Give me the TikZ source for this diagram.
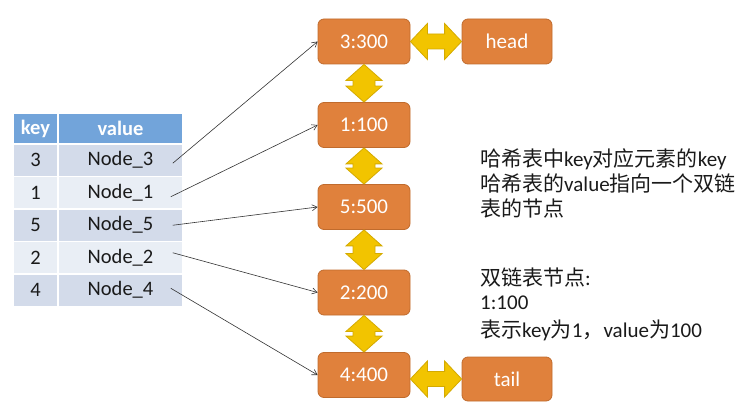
\documentclass[tikz,border=0pt]{standalone}
\usepackage{fontspec}
\setmainfont{Carlito}
\newfontfamily\cjk{Noto Sans CJK SC}
\usetikzlibrary{arrows.meta,calc}
\definecolor{orangefill}{HTML}{E0813C}
\definecolor{orangeline}{HTML}{C06B2D}
\definecolor{goldfill}{HTML}{F2C400}
\definecolor{goldline}{HTML}{D4AA00}
\definecolor{hdrblue}{HTML}{72A4DA}
\definecolor{rowdark}{HTML}{D3DBEA}
\definecolor{rowlight}{HTML}{E9EEF5}
\definecolor{txt}{HTML}{1A1A1A}
\newcommand\vdarrow[2]{%
  \path[darrow] let \p1=(#1.south), \p2=(#2.north) in
    (\x1,\y1) -- (\x1+18pt,\y1-16pt) -- (\x1+11pt,\y1-16pt) -- (\x1+11pt,\y2+16pt)
    -- (\x1+18pt,\y2+16pt) -- (\x1,\y2) -- (\x1-18pt,\y2+16pt) -- (\x1-11pt,\y2+16pt)
    -- (\x1-11pt,\y1-16pt) -- (\x1-18pt,\y1-16pt) -- cycle;}
\newcommand\hdarrow[2]{%
  \path[darrow] let \p1=(#1.east), \p2=(#2.west) in
    (\x1,\y2) -- (\x1+17pt,\y2+18pt) -- (\x1+17pt,\y2+7.5pt) -- (\x2-17pt,\y2+7.5pt)
    -- (\x2-17pt,\y2+18pt) -- (\x2,\y2) -- (\x2-17pt,\y2-18pt) -- (\x2-17pt,\y2-7.5pt)
    -- (\x1+17pt,\y2-7.5pt) -- (\x1+17pt,\y2-18pt) -- cycle;}
\begin{document}
\begin{tikzpicture}[x=1pt,y=-1pt,
  lnode/.style={draw=orangeline, fill=orangefill, rounded corners=6pt, line width=0.8pt,
    minimum width=92pt, minimum height=45pt, inner sep=0pt, text=white,
    font=\fontsize{21}{25}\selectfont},
  darrow/.style={draw=goldline, fill=goldfill, line width=0.8pt, line join=miter},
  cell/.style={draw=white, line width=1.5pt, minimum height=32.5pt, inner sep=0pt,
    text=txt, font=\fontsize{20.5}{24}\selectfont},
  kcol/.style={cell, minimum width=45pt},
  vcol/.style={cell, minimum width=125pt},
  hdr/.style={fill=hdrblue, text=white, minimum height=31pt, font=\fontsize{20.5}{24}\selectfont\bfseries},
  ptr/.style={draw=black!80, line width=0.6pt, -{Straight Barb[length=5pt,width=6pt]}},
  txtline/.style={anchor=base west, inner sep=0pt, text=txt, font=\fontsize{21}{25}\selectfont}
]
\useasboundingbox (0,0) rectangle (747,406);

% table
\node[kcol,hdr] (hk) at (35.5,128.5) {key};
\node[vcol,hdr] (hv) at (120.5,128.5) {value};
\node[kcol,fill=rowdark]  (k3) at (35.5,160.25) {3};
\node[vcol,fill=rowdark]  (v3) at (120.5,160.25) {Node\_3};
\node[kcol,fill=rowlight] (k1) at (35.5,192.75) {1};
\node[vcol,fill=rowlight] (v1) at (120.5,192.75) {Node\_1};
\node[kcol,fill=rowdark]  (k5) at (35.5,225.25) {5};
\node[vcol,fill=rowdark]  (v5) at (120.5,225.25) {Node\_5};
\node[kcol,fill=rowlight] (k2) at (35.5,257.75) {2};
\node[vcol,fill=rowlight] (v2) at (120.5,257.75) {Node\_2};
\node[kcol,fill=rowdark]  (k4) at (35.5,290.25) {4};
\node[vcol,fill=rowdark]  (v4) at (120.5,290.25) {Node\_4};

% list nodes
\node[lnode] (n3) at (364,41.5) {3:300};
\node[lnode] (n1) at (364,125) {1:100};
\node[lnode] (n5) at (364,207) {5:500};
\node[lnode] (n2) at (364,292.5) {2:200};
\node[lnode] (n4) at (364,375) {4:400};
\node[lnode,minimum width=90pt] (head) at (507,41.5) {head};
\node[lnode,minimum width=90pt,minimum height=44pt] (tail) at (507,379) {tail};

% double arrows
\hdarrow{n3}{head}
\vdarrow{n3}{n1}
\vdarrow{n1}{n5}
\vdarrow{n5}{n2}
\vdarrow{n2}{n4}
\hdarrow{n4}{tail}

% pointers
\draw[ptr] ($(v3.east)+(-11,3)$) -- (n3.west);
\draw[ptr] ($(v1.east)+(-13,4)$) -- (n1.west);
\draw[ptr] ($(v5.east)+(-11,0)$) -- (n5.west);
\draw[ptr] ($(v2.east)+(-11,-5)$) -- (n2.west);
\draw[ptr] ($(v4.east)+(-13,-2)$) -- (n4.west);

% notes
\node[txtline] (a1) at (480,167) {{\cjk 哈希表中}key{\cjk 对应元素的}key};
\node[txtline] (a2) at (480,192) {{\cjk 哈希表的}value{\cjk 指向一个双链}};
\node[txtline] (a3) at (480,217) {{\cjk 表的节点}};
\node[txtline] (b1) at (480,285) {{\cjk 双链表节点}:};
\node[txtline] (b2) at (480,309) {1:100};
\node[txtline] (b3) at (480,337) {{\cjk 表示}key{\cjk 为}1{\cjk ，}value{\cjk 为}100};
\end{tikzpicture}
\end{document}
